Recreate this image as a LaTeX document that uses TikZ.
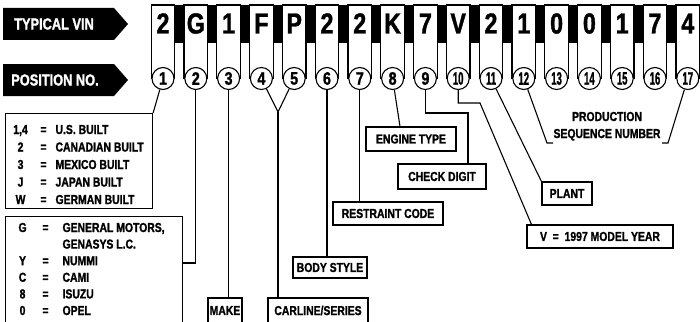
\documentclass[tikz,border=0pt]{standalone}
\usepackage{fontspec}
\setmainfont{Liberation Sans}[FakeStretch=0.8, BoldFeatures={FakeBold=1.3}]
\usepackage{array}
\usepackage{graphicx}
\begin{document}
\begin{tikzpicture}[x=1pt,y=-1pt,line width=1.1pt,
  lbl/.style={draw,fill=white,inner sep=0pt,font=\fontsize{13}{15}\selectfont\bfseries},
  num/.style={circle,draw,fill=white,minimum size=22pt,inner sep=0pt,font=\fontsize{18}{18}\selectfont\bfseries},
  digit/.style={anchor=base,inner sep=0pt,font=\fontsize{29}{29}\selectfont\bfseries},
  tag/.style={text=white,inner sep=0pt,font=\fontsize{16}{16}\selectfont\bfseries},
  boxtext/.style={anchor=base west,inner sep=0pt,font=\fontsize{13}{17.5}\selectfont\bfseries}]
\useasboundingbox (0,0) rectangle (700,321);
\clip (0,0) rectangle (700,321);
\fill[white] (0,0) rectangle (700,321);

% arrows on the left
\fill (3,8) -- (114,8) -- (128,24) -- (114,40) -- (3,40) -- cycle;
\node[tag] (tv) at (54,24) {TYPICAL VIN};
\fill (3,64) -- (114,64) -- (128,80) -- (114,96) -- (3,96) -- cycle;
\node[tag] (pn) at (55,80) {POSITION NO.};

% black bars between columns
\foreach \i in {1,...,16} {
  \pgfmathsetmacro\xa{163+32.8*(\i-1)+11.8}
  \pgfmathsetmacro\xb{163+32.8*\i-11.8}
  \fill (\xa,5) rectangle (\xb,43);
}
% columns, characters and position circles
\foreach \d [count=\i] in {2,G,1,F,P,2,2,K,7,V,2,1,0,0,1,7,4} {
  \pgfmathsetmacro\xc{163+32.8*(\i-1)}
  \draw (\xc-11.8,78.5) -- (\xc-11.8,5) -- (\xc+11.8,5) -- (\xc+11.8,78.5);
  \node[digit] (d\i) at (\xc,33.5) {\d};
  \node[num] (c\i) at (\xc,78.5) {\ifnum\i>9 \scalebox{0.66}[1]{\i}\else\i\fi};
}

% boxes
\node[draw,minimum width=147pt,minimum height=95pt,anchor=north west,inner sep=0pt] (b1) at (5,113) {};
\node[boxtext] (b1t) at (5,134) {\begin{tabular}[t]{@{}>{\centering\arraybackslash}p{30pt}@{}>{\centering\arraybackslash}p{16pt}@{\hspace{4pt}}l@{}}
1,4 & = & U.S. BUILT\\
2 & = & CANADIAN BUILT\\
3 & = & MEXICO BUILT\\
J & = & JAPAN BUILT\\
W & = & GERMAN BUILT
\end{tabular}};

\node[draw,minimum width=177pt,minimum height=114pt,anchor=north west,inner sep=0pt] (b2) at (5,216) {};
\node[boxtext,font=\fontsize{13}{16.6}\selectfont\bfseries] (b2t) at (5,232) {\begin{tabular}[t]{@{}>{\centering\arraybackslash}p{34pt}@{}>{\centering\arraybackslash}p{12pt}@{\hspace{11pt}}l@{}}
G & = & GENERAL MOTORS,\\
 & & GENASYS L.C.\\
Y & = & NUMMI\\
C & = & CAMI\\
8 & = & ISUZU\\
0 & = & OPEL
\end{tabular}};

\node[lbl,minimum width=34pt,minimum height=25pt] (mk) at (225,310.5) {MAKE};
\node[lbl,minimum width=100pt,minimum height=25pt] (cs) at (318,310.5) {CARLINE/SERIES};
\node[lbl,minimum width=74pt,minimum height=21pt] (bs) at (330,267.5) {BODY STYLE};
\node[lbl,minimum width=110pt,minimum height=23pt] (rc) at (388,213.5) {RESTRAINT CODE};
\node[lbl,minimum width=90pt,minimum height=24pt] (et) at (411,139) {ENGINE TYPE};
\node[lbl,minimum width=88pt,minimum height=25pt] (cd) at (442,176.5) {CHECK DIGIT};
\node[lbl,minimum width=50pt,minimum height=23pt] (pl) at (567,193.5) {PLANT};
\node[lbl,minimum width=146pt,minimum height=23pt] (my) at (600,236.5) {V\ \ =\ \ 1997 MODEL YEAR};
\node[inner sep=0pt,align=center,anchor=base,font=\fontsize{13}{17}\selectfont\bfseries] (ps) at (607,138) {PRODUCTION\\SEQUENCE NUMBER};

% connectors
\draw (c1) -- (b1.north east);
\draw (c2.south) |- (b2.east |- 0,263);
\draw (c3.south) -- (mk.north -| c3.south);
\coordinate (v45) at (278,112);
\draw (c4) -- (v45) -- (c5);
\draw (v45) -- (cs.north -| v45);
\draw (c6.south) -- (bs.north -| c6.south);
\draw (c7.south) -- (rc.north -| c7.south);
\draw (c8) -- ([xshift=-11pt]et.north);
\coordinate (k9) at (468,113);
\draw (c9.south) |- (k9) -- (cd.north -| k9);
\coordinate (k10) at (480,103);
\draw (c10.south) |- (k10) -- ([xshift=5pt]my.north west);
\draw (c11) -- (pl.north west);
\coordinate (p12) at (547,143);
\coordinate (p17) at (668,143);
\draw (c12) -- (p12) -- ++(6,0);
\draw (c17) -- (p17) -- ++(-6,0);
\end{tikzpicture}
\end{document}
